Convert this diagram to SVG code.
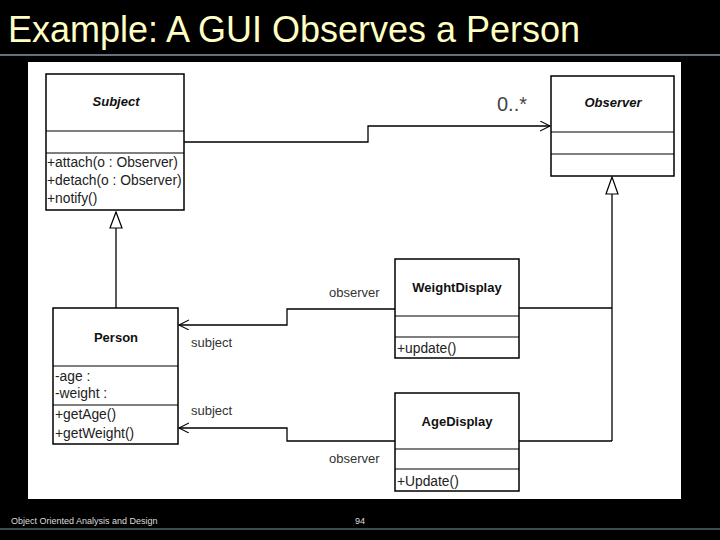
<svg xmlns="http://www.w3.org/2000/svg" width="720" height="540" viewBox="0 0 720 540">
<style>
.box{fill:#fff;stroke:#000;stroke-width:1.5}
.sep{stroke:#000;stroke-width:1.2}
.ln{fill:none;stroke:#000;stroke-width:1.3}
.t{font-family:"Liberation Sans",Arial,sans-serif;font-size:13.8px;fill:#222}
.n{font-family:"Liberation Sans",Arial,sans-serif;font-size:13px;font-weight:bold;fill:#111;text-anchor:middle}
.ni{font-style:italic}
.lbl{font-family:"Liberation Sans",Arial,sans-serif;font-size:13px;fill:#333}
</style>
<defs>
<marker id="open" markerWidth="12" markerHeight="12" refX="10" refY="5" orient="auto" markerUnits="userSpaceOnUse">
<path d="M0,0 L10,5 L0,10" fill="none" stroke="#000" stroke-width="1.1"/>
</marker>
</defs>
<rect width="720" height="540" fill="#000"/>
<text x="8" y="42" font-family="'Liberation Sans',Arial,sans-serif" font-size="37" fill="#ffffc4" textLength="572" lengthAdjust="spacingAndGlyphs">Example: A GUI Observes a Person</text>
<line x1="0" y1="55" x2="720" y2="55" stroke="#7f9aa6" stroke-width="1.5"/>
<rect x="28" y="62" width="653" height="437" fill="#fff"/>
<g id="connectors">
<polyline class="ln" points="184,142 368,142 368,126 550,126" marker-end="url(#open)"/>
<text x="497" y="111" font-family="'Liberation Sans',Arial,sans-serif" font-size="20" fill="#444">0..*</text>
<line class="ln" x1="116" y1="308" x2="116" y2="228"/>
<polygon points="116,212 110,228 122,228" fill="#fff" stroke="#000" stroke-width="1.2"/>
<polyline class="ln" points="612,441 612,194"/>
<polygon points="612,177 606,194 618,194" fill="#fff" stroke="#000" stroke-width="1.2"/>
<line class="ln" x1="519" y1="308" x2="612" y2="308"/>
<line class="ln" x1="519" y1="441" x2="612" y2="441"/>
<polyline class="ln" points="395,309 287,309 287,325 179,325" marker-end="url(#open)"/>
<polyline class="ln" points="395,441 287,441 287,428 179,428" marker-end="url(#open)"/>
<text class="lbl" x="329" y="297">observer</text>
<text class="lbl" x="191" y="347">subject</text>
<text class="lbl" x="191" y="415">subject</text>
<text class="lbl" x="329" y="463">observer</text>
</g>
<g id="Subject">
<rect class="box" x="46" y="74" width="138" height="136"/>
<line class="sep" x1="46" y1="131" x2="184" y2="131"/>
<line class="sep" x1="46" y1="153" x2="184" y2="153"/>
<text class="n ni" x="116" y="106">Subject</text>
<text class="t" x="47" y="167">+attach(o : Observer)</text>
<text class="t" x="47" y="185">+detach(o : Observer)</text>
<text class="t" x="47" y="203">+notify()</text>
</g>
<g id="Observer">
<rect class="box" x="551" y="76" width="123" height="100"/>
<line class="sep" x1="551" y1="132" x2="674" y2="132"/>
<line class="sep" x1="551" y1="154" x2="674" y2="154"/>
<text class="n ni" x="613" y="107">Observer</text>
</g>
<g id="Person">
<rect class="box" x="53" y="308" width="125" height="136"/>
<line class="sep" x1="53" y1="366" x2="178" y2="366"/>
<line class="sep" x1="53" y1="405" x2="178" y2="405"/>
<text class="n" x="116" y="342">Person</text>
<text class="t" x="55" y="381">-age :</text>
<text class="t" x="55" y="398">-weight :</text>
<text class="t" x="55" y="419">+getAge()</text>
<text class="t" x="55" y="438">+getWeight()</text>
</g>
<g id="WeightDisplay">
<rect class="box" x="395" y="259" width="124" height="99"/>
<line class="sep" x1="395" y1="316" x2="519" y2="316"/>
<line class="sep" x1="395" y1="337" x2="519" y2="337"/>
<text class="n" x="457" y="292">WeightDisplay</text>
<text class="t" x="397" y="353">+update()</text>
</g>
<g id="AgeDisplay">
<rect class="box" x="395" y="393" width="124" height="98"/>
<line class="sep" x1="395" y1="449" x2="519" y2="449"/>
<line class="sep" x1="395" y1="469" x2="519" y2="469"/>
<text class="n" x="457" y="426">AgeDisplay</text>
<text class="t" x="397" y="486">+Update()</text>
</g>
<text x="11" y="524" font-family="'Liberation Sans',Arial,sans-serif" font-size="9" fill="#ddd">Object Oriented Analysis and Design</text>
<text x="355" y="524" font-family="'Liberation Sans',Arial,sans-serif" font-size="9" fill="#ddd">94</text>
<line x1="0" y1="529" x2="720" y2="529" stroke="#7f9aa6" stroke-width="1.2"/>
</svg>
